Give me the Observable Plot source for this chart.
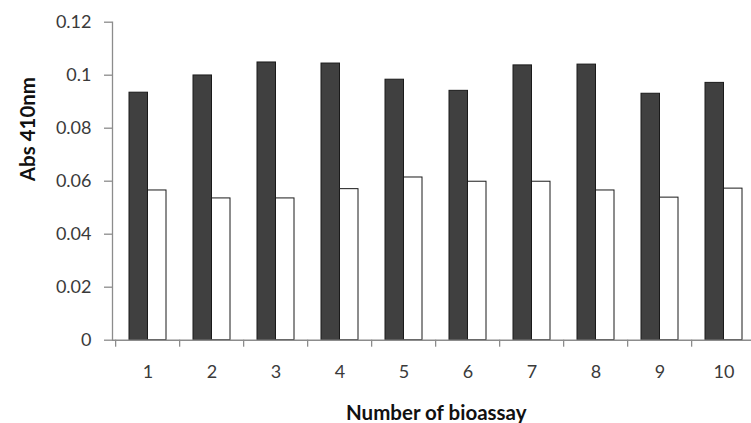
<!DOCTYPE html>
<html>
<head>
<meta charset="utf-8">
<script src="https://cdn.jsdelivr.net/npm/d3@7"></script>
<script src="https://cdn.jsdelivr.net/npm/@observablehq/plot@0.6"></script>
<style>
  html, body { margin: 0; padding: 0; background: #fff; overflow: hidden; }
  #chart { width: 751px; height: 423px; overflow: hidden; }
  svg { font-family: Lato, "Open Sans", sans-serif; }
</style>
</head>
<body>
<div id="chart"></div>
<script>
const categories = ["1", "2", "3", "4", "5", "6", "7", "8", "9", "10"];
const darkValues = [0.0934, 0.0999, 0.1048, 0.1044, 0.0983, 0.0941, 0.1037, 0.1040, 0.0930, 0.0971];
const whiteValues = [0.0565, 0.0535, 0.0535, 0.0570, 0.0614, 0.0598, 0.0598, 0.0565, 0.0538, 0.0572];
const yTicks = [0, 0.02, 0.04, 0.06, 0.08, 0.1, 0.12];
const yLabel = "Abs 410nm";
const xLabel = "Number of bioassay";

const dark = categories.map((c, i) => ({cat: c, v: darkValues[i]}));
const white = categories.map((c, i) => ({cat: c, v: whiteValues[i]}));

const W = 751, H = 423;
const mLeft = 112, mRight = -8.5, mTop = 21.7, mBottom = 83.3;
const step = (W - mLeft - mRight) / categories.length;
const half = step * (1 - 0.4286) / 2;
const axisGrey = "#8c8c8c";
const textCol = "#3a3a3a";

const chart = Plot.plot({
  width: W,
  height: H,
  marginLeft: mLeft,
  marginRight: mRight,
  marginTop: mTop,
  marginBottom: mBottom,
  style: {fontFamily: "Lato, 'Open Sans', sans-serif", background: "#fff"},
  x: {domain: categories, paddingInner: 0.4286, paddingOuter: 0.2143, label: null},
  y: {domain: [0, 0.12], label: null},
  marks: [
    Plot.frame({anchor: "left", stroke: axisGrey, strokeWidth: 1.3}),
    Plot.axisY({ticks: yTicks, tickSize: 8, tickPadding: 13, stroke: axisGrey, strokeWidth: 1.3,
      fill: textCol, fontSize: 18, tickFormat: d => String(d), label: null}),
    Plot.axisX({tickSize: 7, text: null, dx: -step / 2, stroke: axisGrey, strokeWidth: 1.3, label: null}),
    Plot.axisX({tickSize: 0, tickPadding: 25, fill: textCol, fontSize: 18, label: null}),
    Plot.barY(dark, {x: "cat", y: "v", insetRight: half, fill: "#404040", stroke: "#1a1a1a", strokeWidth: 1}),
    Plot.barY(white, {x: "cat", y: "v", insetLeft: half, fill: "#ffffff", stroke: "#1a1a1a", strokeWidth: 1}),
    Plot.ruleY([0], {stroke: axisGrey, strokeWidth: 1.5}),
    Plot.text([yLabel], {frameAnchor: "left", dx: -84, rotate: -90, fontSize: 20.5, fontWeight: "bold", fill: "#111"}),
    Plot.text([xLabel], {frameAnchor: "bottom", dy: 80, fontSize: 20.5, fontWeight: "bold", fill: "#111"})
  ]
});
document.getElementById("chart").appendChild(chart);
</script>
</body>
</html>
